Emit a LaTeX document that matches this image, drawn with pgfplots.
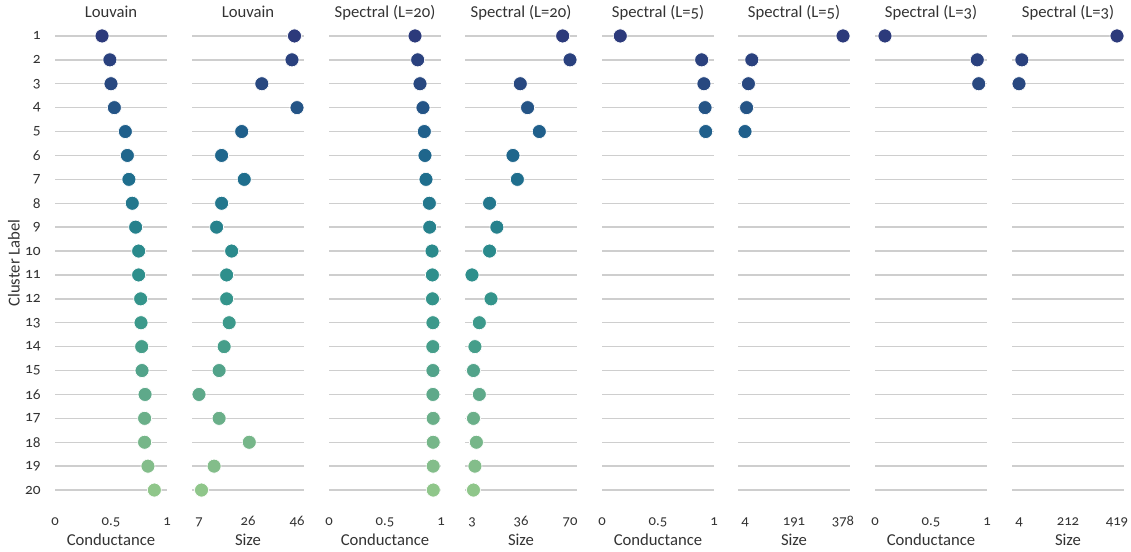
\documentclass[border=0pt]{standalone}
\usepackage{fontspec}
\setmainfont{Carlito}[Numbers=OldStyle]
\usepackage{pgfplots}
\pgfplotsset{compat=1.18}
\definecolor{gridc}{RGB}{206,206,206}
\definecolor{txt}{RGB}{51,51,51}
\newcommand{\ptitle}[1]{\node[font=\fontsize{12.5}{14}\selectfont, text=txt, anchor=base, inner sep=0pt] at ([yshift=4.9pt]axis description cs:0.5,1) {#1};}
\pgfplotsset{
 panel/.style={
  scale only axis, width=84pt, height=358.5pt,
  anchor=south west,
  y dir=reverse, ymin=0.5, ymax=20.5,
  ytick={1,...,20}, yticklabels={},
  axis line style={draw=none},
  major tick length=0pt,
  ymajorgrids, xmajorgrids=false,
  grid style={line width=1.1pt, color=gridc},
  clip=false,
  colormap={crest}{rgb255=(44,58,123) rgb255=(42,65,126) rgb255=(40,72,128) rgb255=(36,84,134) rgb255=(31,95,139) rgb255=(31,102,140) rgb255=(31,110,141) rgb255=(35,119,141) rgb255=(38,129,140) rgb255=(42,138,140) rgb255=(46,143,140) rgb255=(52,148,139) rgb255=(60,153,139) rgb255=(70,158,138) rgb255=(82,163,138) rgb255=(94,169,138) rgb255=(106,175,137) rgb255=(118,182,137) rgb255=(131,189,138) rgb255=(143,198,138)},
  point meta min=1, point meta max=20,
  xticklabel style={font=\fontsize{11}{12}\selectfont, text=txt, anchor=base, yshift=-17.25pt},
  xlabel style={font=\fontsize{12.5}{14}\selectfont, text=txt, at={(axis description cs:0.5,0)}, anchor=base, yshift=-32.25pt},
 },
 dots/.style={scatter, only marks, mark=*, mark size=5.25pt, point meta=y,
  scatter/use mapped color={draw=white, fill=mapped color},
  mark options={line width=0.5pt}},
 cond/.style={xmin=0, xmax=1, xtick={0,0.5,1}, xticklabels={0,0.5,1}, xlabel={Conductance}},
}
\begin{document}
\begin{tikzpicture}
\path[use as bounding box] (0,0) rectangle (848.25pt,414pt);
% Panel 1
\begin{axis}[panel, cond, at={(41.25pt,37.5pt)},
  yticklabels={1,2,3,4,5,6,7,8,9,10,11,12,13,14,15,16,17,18,19,20},
  yticklabel style={font=\fontsize{11.5}{12}\selectfont, text=txt, anchor=east, inner sep=0pt, xshift=-10.5pt}]
\addplot[dots] coordinates {(0.42,1) (0.49,2) (0.50,3) (0.53,4) (0.628,5) (0.646,6) (0.66,7) (0.69,8) (0.72,9) (0.747,10) (0.747,11) (0.765,12) (0.768,13) (0.774,14) (0.777,15) (0.804,16) (0.80,17) (0.80,18) (0.83,19) (0.887,20)};
\ptitle{Louvain}
\node[font=\fontsize{12.5}{14}\selectfont, text=txt, rotate=90, anchor=center] at ([xshift=-30.75pt]axis description cs:0,0.5) {Cluster Label};
\end{axis}
% Panel 2
\begin{axis}[panel, at={(144pt,37.5pt)}, xmin=4.214, xmax=48.786,
  xtick={7,26.5,46}, xticklabels={7,26,46}, xlabel={Size}]
\addplot[dots] coordinates {(45,1) (44,2) (32,3) (46,4) (24,5) (16,6) (25,7) (16,8) (14,9) (20,10) (18,11) (18,12) (19,13) (17,14) (15,15) (7,16) (15,17) (27,18) (13,19) (8,20)};
\ptitle{Louvain}
\end{axis}
% Panel 3
\begin{axis}[panel, cond, at={(246.75pt,37.5pt)}]
\addplot[dots] coordinates {(0.768,1) (0.792,2) (0.8125,3) (0.839,4) (0.851,5) (0.857,6) (0.866,7) (0.896,8) (0.899,9) (0.92,10) (0.923,11) (0.924,12) (0.928,13) (0.927,14) (0.928,15) (0.928,16) (0.930,17) (0.930,18) (0.930,19) (0.931,20)};
\ptitle{Spectral (L=20)}
\end{axis}
% Panel 4
\begin{axis}[panel, at={(348.75pt,37.5pt)}, xmin=-1.786, xmax=74.786,
  xtick={3,36.5,70}, xticklabels={3,36,70}, xlabel={Size}]
\addplot[dots] coordinates {(65,1) (70,2) (36,3) (41,4) (49,5) (31,6) (34,7) (15,8) (20,9) (15,10) (3,11) (16,12) (8,13) (5,14) (4,15) (8,16) (4,17) (6,18) (5,19) (4,20)};
\ptitle{Spectral (L=20)}
\end{axis}
% Panel 5
\begin{axis}[panel, cond, at={(451.5pt,37.5pt)}]
\addplot[dots] coordinates {(0.163,1) (0.89,2) (0.91,3) (0.92,4) (0.926,5)};
\ptitle{Spectral (L=5)}
\end{axis}
% Panel 6
\begin{axis}[panel, at={(553.5pt,37.5pt)}, xmin=-22.71, xmax=404.71,
  xtick={4,191,378}, xticklabels={4,191,378}, xlabel={Size}]
\addplot[dots] coordinates {(378,1) (30,2) (17,3) (10,4) (4,5)};
\ptitle{Spectral (L=5)}
\end{axis}
% Panel 7
\begin{axis}[panel, cond, at={(656.25pt,37.5pt)}]
\addplot[dots] coordinates {(0.089,1) (0.913,2) (0.926,3)};
\ptitle{Spectral (L=3)}
\end{axis}
% Panel 8
\begin{axis}[panel, at={(759pt,37.5pt)}, xmin=-25.64, xmax=448.64,
  xtick={4,211.5,419}, xticklabels={4,212,419}, xlabel={Size}]
\addplot[dots] coordinates {(419,1) (16,2) (4,3)};
\ptitle{Spectral (L=3)}
\end{axis}
\end{tikzpicture}
\end{document}
